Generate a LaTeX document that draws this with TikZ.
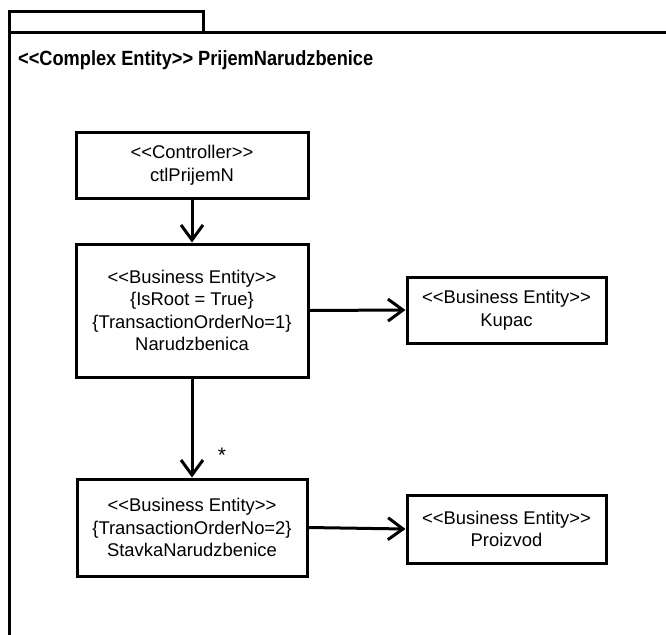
\documentclass[tikz,border=0pt]{standalone}
\usepackage{fontspec}
\setmainfont{Liberation Sans}
\usetikzlibrary{arrows.meta}
% stereotype brackets, kept apart so the font mapping does not turn them into guillemets
\newcommand{\stl}{<\kern0pt<}
\newcommand{\str}{>\kern0pt>}

\begin{document}
\begin{tikzpicture}[x=1pt,y=-1pt,
  frameline/.style={line width=3pt, line cap=rect},
  entity/.style={draw, line width=3pt, align=center, inner sep=0pt,
    font=\fontsize{18.4}{22.5}\selectfont},
  assoc/.style={line width=3pt, -{Straight Barb[length=15pt,width=22pt,line width=3pt]}},
  mult/.style={font=\fontsize{21}{22}\selectfont, inner sep=0pt}
]
\useasboundingbox (0,0) rectangle (666,634);
\fill[white] (0,0) rectangle (666,634);

% package frame with its tab
\draw[frameline] (9,33) -- (9,12) -- (203,12) -- (203,33);
\draw[frameline] (9,33) -- (672,33);
\draw[frameline] (9,12) -- (9,640);
\node[anchor=base west, inner sep=0pt] (title) at (18,65)
  {\scalebox{0.91}[1.03]{\fontsize{20}{24}\selectfont\bfseries \stl Complex Entity\str{} PrijemNarudzbenice}};

% entities
\node[entity, minimum width=232pt, minimum height=66pt] (ctl) at (192,165)
  {\stl Controller\str\\ctlPrijemN};
\node[entity, minimum width=232pt, minimum height=133pt] (nar) at (192,310.5)
  {\stl Business Entity\str\\\{IsRoot = True\}\\\{TransactionOrderNo=1\}\\Narudzbenica};
\node[entity, minimum width=199pt, minimum height=66pt] (kupac) at (506.5,310)
  {\stl Business Entity\str\\Kupac};
\node[entity, minimum width=230pt, minimum height=97pt] (stavka) at (192,527.5)
  {\stl Business Entity\str\\\{TransactionOrderNo=2\}\\StavkaNarudzbenice};
\node[entity, minimum width=199pt, minimum height=68pt] (proizvod) at (506.5,529)
  {\stl Business Entity\str\\Proizvod};

% associations
\draw[assoc] (ctl.south) -- (nar.north);
\draw[assoc] (nar.east) -- (kupac.west);
\draw[assoc] (nar.south) -- (stavka.north);
\draw[assoc] (stavka.east) -- (proizvod.west);
\node[mult] (star) at (222,455) {*};
\end{tikzpicture}
\end{document}
